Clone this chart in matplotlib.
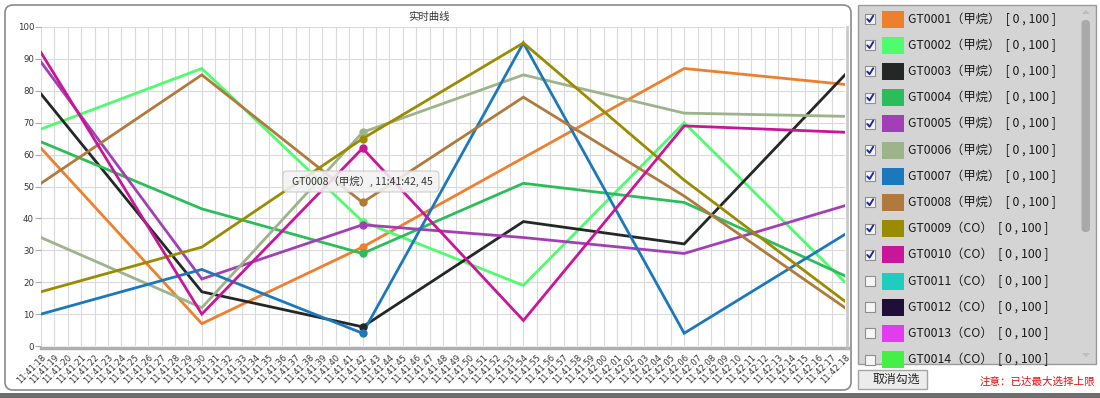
import matplotlib
matplotlib.use("Agg")
import matplotlib.pyplot as plt
from matplotlib.patches import FancyBboxPatch, Rectangle, Polygon

CJK = ['Noto Sans CJK SC', 'DejaVu Sans']
plt.rcParams['font.family'] = ['DejaVu Sans', 'Noto Sans CJK SC']

# ---------------- data ----------------
time_labels = [
    "11:41:18", "11:41:19", "11:41:20", "11:41:21", "11:41:22", "11:41:23", "11:41:24",
    "11:41:25", "11:41:26", "11:41:27", "11:41:28", "11:41:29", "11:41:30", "11:41:31",
    "11:41:32", "11:41:33", "11:41:34", "11:41:35", "11:41:36", "11:41:37", "11:41:38",
    "11:41:39", "11:41:40", "11:41:41", "11:41:42", "11:41:43", "11:41:44", "11:41:45",
    "11:41:46", "11:41:47", "11:41:48", "11:41:49", "11:41:50", "11:41:51", "11:41:52",
    "11:41:53", "11:41:54", "11:41:55", "11:41:56", "11:41:57", "11:41:58", "11:41:59",
    "11:42:00", "11:42:01", "11:42:02", "11:42:03", "11:42:04", "11:42:05", "11:42:06",
    "11:42:07", "11:42:08", "11:42:09", "11:42:10", "11:42:11", "11:42:12", "11:42:13",
    "11:42:14", "11:42:15", "11:42:16", "11:42:17", "11:42:18",
]
sample_times = ["11:41:18", "11:41:30", "11:41:42", "11:41:54", "11:42:06", "11:42:18"]
hover_time = "11:41:42"

gt0001 = [62, 7, 31, 59, 87, 82]
gt0002 = [68, 87, 39, 19, 70, 20]
gt0003 = [79, 17, 6, 39, 32, 85]
gt0004 = [64, 43, 29, 51, 45, 22]
gt0005 = [89, 21, 38, 34, 29, 44]
gt0006 = [34, 12, 67, 85, 73, 72]
gt0007 = [10, 24, 4, 95, 4, 35]
gt0008 = [51, 85, 45, 78, 47, 12]
gt0009 = [17, 31, 65, 95, 52, 14]
gt0010 = [92, 10, 62, 8, 69, 67]
plotted_values = [gt0001, gt0002, gt0003, gt0004, gt0005,
                  gt0006, gt0007, gt0008, gt0009, gt0010]

sensor_names = ["GT0001", "GT0002", "GT0003", "GT0004", "GT0005", "GT0006", "GT0007",
                "GT0008", "GT0009", "GT0010", "GT0011", "GT0012", "GT0013", "GT0014"]
sensor_gas = ["甲烷", "甲烷", "甲烷", "甲烷", "甲烷", "甲烷", "甲烷",
              "甲烷", "CO", "CO", "CO", "CO", "CO", "CO"]
sensor_range = ["[ 0 , 100 ]"] * 14
sensor_checked = [True] * 10 + [False] * 4
sensor_colors = ["#EE7F2D", "#4EFC6E", "#232826", "#2CBD5A", "#A23FB7", "#9DB38A",
                 "#1B78BC", "#AF7A3B", "#9A8B00", "#C9159A", "#1ECDC0", "#1F0E38",
                 "#E23CF0", "#45F045"]

title_text = "实时曲线"
tooltip_text = "GT0008（甲烷）, 11:41:42, 45"
button_text = "取消勾选"
warning_text = "注意：已达最大选择上限"

# ---------------- figure ----------------
W, H = 1100, 398
fig = plt.figure(figsize=(W / 100, H / 100), dpi=100)
fig.patch.set_facecolor("white")

# background overlay (pixel coordinates)
bg = fig.add_axes([0, 0, 1, 1], zorder=0)
bg.set_xlim(0, W)
bg.set_ylim(H, 0)
bg.axis("off")

# left chart panel border
bg.add_patch(FancyBboxPatch((5, 5), 846, 385, boxstyle="round,pad=0,rounding_size=8",
                            facecolor="white", edgecolor="#8a8a8a", lw=1.2))
# bottom dark bar
bg.add_patch(Rectangle((0, 393), W, 5, facecolor="#6e6e6e", edgecolor="none"))

# plot area
L, R, T, B = 41, 845, 27, 346
ax = fig.add_axes([L / W, 1 - B / H, (R - L) / W, (B - T) / H], zorder=1)
ax.set_facecolor("white")
xs = [time_labels.index(t) for t in sample_times]
hx = time_labels.index(hover_time)
hi = sample_times.index(hover_time)
for vals, col in zip(plotted_values, sensor_colors):
    ax.plot(xs, vals, color=col, lw=2.0, solid_joinstyle="miter", zorder=3)
    ax.plot([hx], [vals[hi]], "o", color=col, ms=5, zorder=4)

ax.set_xlim(0, len(time_labels) - 1)
ax.set_ylim(0, 100)
ax.set_xticks(range(len(time_labels)))
ax.set_xticklabels(time_labels, rotation=45, ha="right", rotation_mode="anchor",
                   fontsize=6, color="#333333")
ax.set_yticks(range(0, 101, 10))
ax.tick_params(axis="y", labelsize=6.2, length=4, color="#aaaaaa", labelcolor="#333333", pad=1)
ax.tick_params(axis="x", length=0, pad=5)
ax.grid(True, color="#dadada", lw=0.8)
ax.set_axisbelow(True)
for s in ax.spines.values():
    s.set_visible(False)

# shadows of plot area
fg = fig.add_axes([0, 0, 1, 1], zorder=3)
fg.set_xlim(0, W)
fg.set_ylim(H, 0)
fg.axis("off")
fg.plot([L, R + 3], [B + 1.5, B + 1.5], color="#9a9a9a", lw=2.5, alpha=0.8)
fg.plot([R + 1.5, R + 1.5], [T, B + 1.5], color="#bdbdbd", lw=2, alpha=0.8)

# title
fg.text(429, 17, title_text, fontsize=7.5, color="#333333", ha="center", va="center",
        family=CJK)

# tooltip
fg.add_patch(FancyBboxPatch((283, 171), 156, 21, boxstyle="round,pad=0,rounding_size=4",
                            facecolor="#f2f2f2", edgecolor="#c8c8c8", lw=0.8, alpha=0.88))
fg.text(292, 181.5, tooltip_text, fontsize=7.5, color="#333333", ha="left", va="center",
        family=CJK)

# legend panel
fg.add_patch(Rectangle((858, 5), 238, 359, facecolor="#d4d4d4", edgecolor="#9a9a9a", lw=1))
# scrollbar
fg.add_patch(FancyBboxPatch((1081.5, 20), 8.5, 212, boxstyle="round,pad=0,rounding_size=4",
                            facecolor="#a9a9a9", edgecolor="none"))
fg.add_patch(Polygon([[1082, 14], [1090, 14], [1086, 10]], closed=True,
                     facecolor="#bdbdbd", edgecolor="none"))
fg.add_patch(Polygon([[1082, 353], [1090, 353], [1086, 357]], closed=True,
                     facecolor="#bdbdbd", edgecolor="none"))

for i, name in enumerate(sensor_names):
    yc = 19 + i * 26.2
    fg.add_patch(Rectangle((865, yc - 5), 10, 10, facecolor="#f6f6f6", edgecolor="#8e8e8e",
                           lw=0.8))
    if sensor_checked[i]:
        fg.plot([867.3, 869.6, 873.2], [yc + 0.2, yc + 2.8, yc - 3.2], color="#1d2a9a",
                lw=1.4, solid_capstyle="round")
    fg.add_patch(Rectangle((882, yc - 8.5), 22, 17, facecolor=sensor_colors[i],
                           edgecolor="none"))
    fg.text(908, yc, f"{name}（{sensor_gas[i]}）  {sensor_range[i]}", fontsize=8.8,
            color="#1a1a1a", ha="left", va="center", family=CJK)

# button
fg.add_patch(Rectangle((858, 370), 69, 19, facecolor="#ececec", edgecolor="#a5a5a5", lw=1))
fg.text(896, 379.5, button_text, fontsize=8.6, color="#222222", ha="center", va="center",
        family=CJK)

# warning
fg.text(1095, 382, warning_text, fontsize=7.6, color="#e41010", ha="right", va="center",
        family=CJK)

fig.savefig("out.png", dpi=100)
